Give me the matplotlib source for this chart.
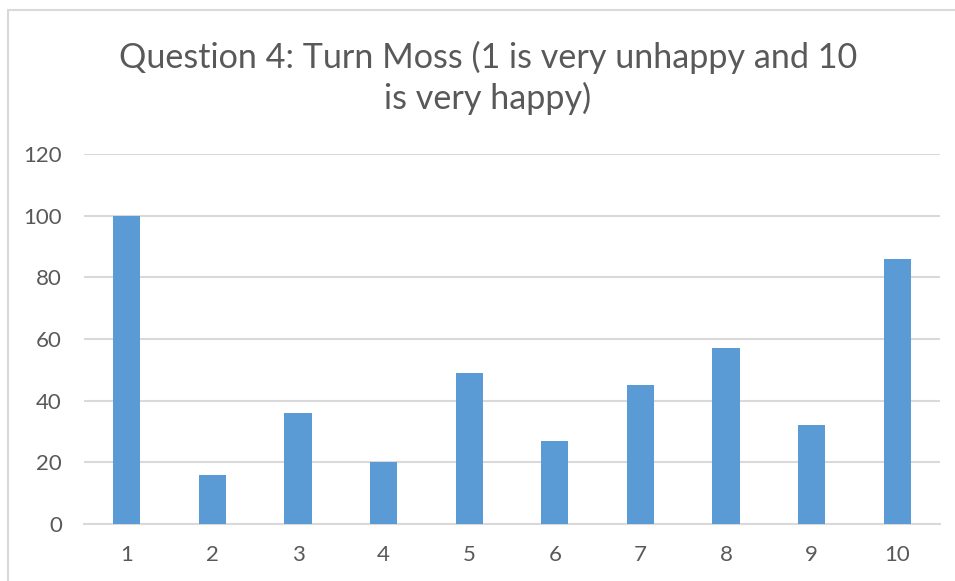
#import used libraries
import numpy as np
from matplotlib import pyplot as plt
from matplotlib.patches import Rectangle

#survey answers: score given and how many people gave it
scores = [1, 2, 3, 4, 5, 6, 7, 8, 9, 10]
counts = [100, 16, 36, 20, 49, 27, 45, 57, 32, 86]
y_ticks = [0, 20, 40, 60, 80, 100, 120]
title_text = "Question 4: Turn Moss (1 is very unhappy and 10\nis very happy)"

bar_color = '#5B9BD5'
text_color = '#595959'
grid_color = '#D9D9D9'

plt.rcParams['font.family'] = ['Lato', 'DejaVu Sans']

#make picture and layout (pixels / 100)
W, H = 955, 581
fig = plt.figure(figsize=(W / 100, H / 100), dpi=100)
ax = fig.add_axes([84 / W, 1 - 524 / H, (940 - 84) / W, (524 - 154) / H])

#outer chart frame, only top and left edges fall inside the image
fig.patches.append(Rectangle((8 / W, -0.1), 1.2, 1 - 9.5 / H + 0.1, transform=fig.transFigure,
                             fill=False, edgecolor=grid_color, lw=1.5))

x = np.arange(len(scores))
ax.bar(x, counts, width=0.316, color=bar_color, zorder=3)

ax.set_xlim(-0.5, len(scores) - 0.5)
ax.set_ylim(0, 120)
ax.set_yticks(y_ticks)
ax.set_xticks(x)
ax.set_xticklabels([str(s) for s in scores])
ax.tick_params(axis='both', length=0, labelsize=16, colors=text_color)
ax.tick_params(axis='y', pad=16)
ax.tick_params(axis='x', pad=15)

#horizontal grid lines only
ax.grid(axis='y', color=grid_color, lw=1.5, zorder=0)
for side in ['top', 'right', 'left']:
    ax.spines[side].set_visible(False)
ax.spines['bottom'].set_color(grid_color)
ax.spines['bottom'].set_linewidth(1.5)

#title over the chart
fig.text(488 / W, 1 - 78 / H, title_text, ha='center', va='center', fontsize=24.6,
         color=text_color, linespacing=1.3)

#save figure
plt.savefig('out.png', dpi=100)
plt.close()
